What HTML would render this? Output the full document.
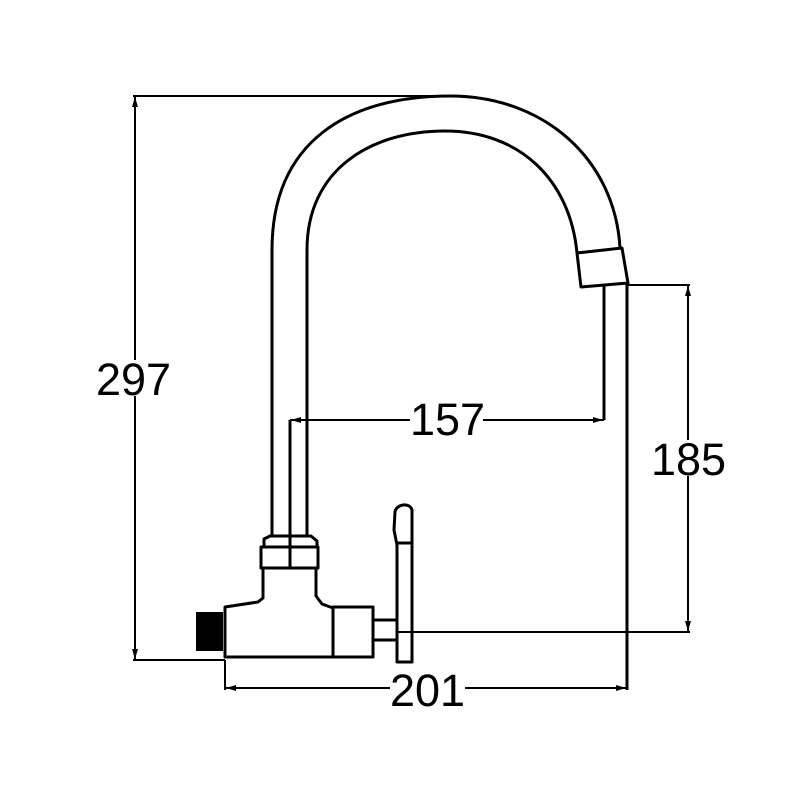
<!DOCTYPE html>
<html><head><style>body{margin:0;background:#fff}svg{display:block}text{font-family:"Liberation Sans",sans-serif;font-size:45px;fill:#000}</style></head>
<body>
<svg width="800" height="800" viewBox="0 0 800 800" xmlns="http://www.w3.org/2000/svg">
<g fill="none" stroke="#000" stroke-width="3" stroke-linejoin="round">
<path d="M272,537 L272,250 C272,140 350,96 450,96 C545,96 615,160 620,248"/>
<path d="M307,537 L307,250 C307,170 370,131 445,131 C520,131 570,180 577,253"/>
<path d="M577,253 L622,248 L628,283 L581,287 Z"/>
<line x1="604" y1="286" x2="604" y2="420"/>
<line x1="627" y1="284" x2="627" y2="690"/>
<line x1="290" y1="420" x2="290" y2="567"/>
<path d="M264,547 L264,539 L270,536 L311,536 L317,541 L317,547"/>
<rect x="261" y="547" width="57" height="21"/>
<path d="M263,568 L263,598 L258,602 L225,607 L225,657 L333,657 L333,608 L322,604 L316,596 L316,568"/>
<rect x="333" y="607" width="40" height="50"/>
<path d="M373,620 L396,620 M373,640 L396,640"/>
<path d="M397,662 L397,545 L394,530 L395,512 C396,504 410,502 412,510 L412,662 Z"/>
<line x1="396" y1="543" x2="412" y2="543"/>
</g>
<rect x="196" y="612" width="27" height="39" fill="#000"/>
<g stroke="#000" stroke-width="2" fill="none">
<line x1="133" y1="96" x2="455" y2="96"/>
<line x1="135" y1="96" x2="135" y2="660"/>
<line x1="133" y1="660" x2="225" y2="660"/>
<line x1="290" y1="420" x2="410" y2="420"/>
<line x1="483" y1="420" x2="604" y2="420"/>
<line x1="627" y1="285" x2="690" y2="285"/>
<line x1="688" y1="285" x2="688" y2="632"/>
<line x1="397" y1="632" x2="690" y2="632"/>
<line x1="225" y1="660" x2="225" y2="690"/>
<line x1="225" y1="688" x2="390" y2="688"/>
<line x1="465" y1="688" x2="627" y2="688"/>
</g>
<g fill="#000">
<path d="M135,97 l-3,10 h6 z"/><path d="M135,659 l-3,-10 h6 z"/>
<path d="M688,286 l-3,10 h6 z"/><path d="M688,631 l-3,-10 h6 z"/>
<path d="M226,688 l10,-3 v6 z"/><path d="M626,688 l-10,-3 v6 z"/>
<path d="M291,420 l10,-3 v6 z"/><path d="M603,420 l-10,-3 v6 z"/>
</g>
<g fill="#fff">
<rect x="128" y="360" width="14" height="36"/>
<rect x="681" y="440" width="14" height="36"/>
</g>
<text x="96" y="395">297</text>
<text x="651" y="475">185</text>
<text x="410" y="435">157</text>
<text x="390" y="706">201</text>
</svg>
</body></html>
